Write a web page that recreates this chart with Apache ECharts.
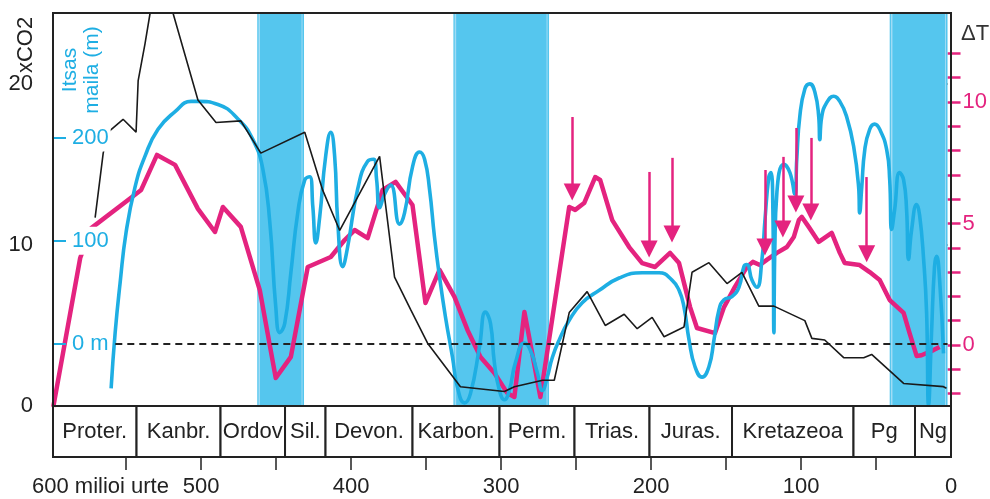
<!DOCTYPE html>
<html><head><meta charset="utf-8">
<script src="https://cdn.jsdelivr.net/npm/echarts@6/dist/echarts.min.js"></script>
<style>html,body{margin:0;padding:0;background:#fff}#c{width:990px;height:499px}</style>
</head><body><div id="c"></div>
<script>
// ---- data ----
const periodNames = ['Proter.','Kanbr.','Ordov','Sil.','Devon.','Karbon.','Perm.','Trias.','Juras.','Kretazeoa','Pg','Ng'];
const periodBounds = [598.7, 543, 487, 444, 417, 359, 301, 251, 201, 146, 65, 24, 0];
const glacialBands = [[462, 430.7], [330.7, 266.7], [38.7, 0]];
const xLabelValues = [500, 400, 300, 200, 100, 0];
const xTickValues = [550, 500, 450, 400, 350, 300, 250, 200, 150, 100, 50];
const co2TickValues = [0, 10, 20];
const seaTickValues = [0, 100, 200];
const dTTickValues = [-2,-1,0,1,2,3,4,5,6,7,8,9,10,11,12];
const dTLabelValues = [0, 5, 10];

// xCO2 (Ma, ratio)
const co2Data = [[570.5,11.7],[565.1,15.7],[561.8,17.0],[551.8,17.8],[543.1,17.0],[541.7,20.2],[537.1,22.5],[533.7,24.4],[527,27],[518.4,24.4],[501.7,19.0],[489.6,17.6],[473.0,17.7],[459.6,15.7],[430.2,17.0],[418.2,13.4],[406.8,10.9],[380.1,15.5],[376.8,13.0],[370.1,8.0],[359.4,6.0],[348.0,3.9],[326.0,1.2],[296.6,0.9],[289.9,1.2],[271,1.6],[263.2,1.6],[253.2,5.8],[241.2,7.1],[229.1,5.0],[216.4,5.7],[207.7,4.8],[197.7,5.5],[189.7,4.3],[176.4,4.9],[171.0,8.3],[159.7,8.9],[147.6,7.6],[137.6,8.3],[126.3,6.2],[116.2,6.2],[95.5,5.3],[90.8,4.2],[82.2,4.1],[69.5,3.0],[56.1,3.0],[50.8,3.2],[29.4,1.4],[2.7,1.2],[0.7,1.1]];

// Delta T (Ma, degrees)
const dTData = [[598.5,-2.55],[580.5,3.58],[573.1,4.81],[539.7,6.38],[529.1,7.82],[517.0,7.41],[501.7,5.6],[490.3,4.65],[485.0,5.68],[473.0,4.86],[460.3,2.26],[449.6,-1.36],[439.5,-0.49],[428.2,3.21],[412.8,3.62],[403.5,4.32],[396.8,4.73],[388.1,4.40],[378.1,6.38],[369.4,6.71],[358.1,5.76],[349.4,1.73],[340.0,3.09],[330.0,1.98],[321.3,0.62],[312.6,-0.49],[303.3,-1.15],[294.6,-1.98],[289.9,-2.14],[283.2,1.36],[272.5,-2.14],[253.2,5.68],[249.2,5.56],[243.2,5.84],[235.8,6.91],[232.5,6.79],[224.4,5.14],[213.1,4.03],[204.4,3.37],[195.7,3.21],[185.7,3.79],[179.7,3.37],[172.3,1.56],[167.7,0.70],[155.6,0.49],[149.6,1.56],[142.3,2.39],[134.3,3.21],[130.3,3.42],[125.6,3.29],[121,3.5],[114.2,3.79],[107.5,4.03],[102.9,4.44],[99.5,5.14],[97.5,5.27],[92.9,4.86],[86.2,4.24],[77.5,4.61],[72.1,3.79],[68.8,3.37],[58.8,3.29],[52.1,3.00],[45.4,2.67],[38.7,1.85],[29.4,1.32],[25.4,0.49],[20.7,-0.45],[17.4,-0.42],[9.4,-0.21],[5.3,-0.08]];

// Sea level (Ma, m)
const seaData = [[559.8,-43],[557.1,11],[553.8,59],[549.8,108],[543.8,152],[537.1,182],[528.4,208],[517,225],[506.3,235],[501.7,235],[488.3,232],[474.9,218],[464.9,198],[458.2,169],[453.6,118],[449.6,36],[446.9,11],[443.6,20],[439.5,69],[434.9,127],[430.2,159],[426.9,162],[424.8,133],[422.8,98],[420.2,123],[416.2,182],[412.8,205],[410.2,182],[408.1,118],[404.8,75],[401.5,94],[394.8,150],[388.1,177],[384.1,179],[382.1,159],[380.1,132],[376.8,145],[372.7,154],[366.7,116],[363.4,127],[358.0,172],[353.4,186],[350.0,179],[346.7,150],[343.4,104],[340.0,65],[336.0,26],[331.3,-13],[328.0,-42],[323.3,-57],[319.3,-48],[313.3,-3],[309.3,31],[305.9,20],[303.3,-18],[299.9,-45],[296.6,-54],[293.3,-45],[289.2,-18],[283.2,1],[279.2,-6],[274.5,-28],[271.2,-45],[267.9,-32],[264.5,-13],[259.9,4],[253.2,23],[244.5,40],[233.1,52],[219.8,64],[204.4,69],[193.1,69],[184.4,62],[179.7,52],[176.4,36],[173.0,4],[169.0,-22],[164.3,-32],[159.7,-22],[156.3,4],[153.0,33],[149.6,43],[144.3,46],[139.6,55],[136.3,75],[134.3,77],[130.9,62],[127.6,55],[124.2,82],[122.2,120],[119.6,162],[118.2,166],[116.9,130],[116.2,11],[115.6,91],[114.2,147],[109.6,174],[105.5,166],[102.2,145],[100.9,179],[98.9,220],[95.5,247],[92.2,252],[88.8,244],[86.2,220],[85.5,198],[84.2,220],[80.8,234],[76.2,240],[72.1,235],[67.5,220],[62.8,191],[59.5,152],[58.8,127],[57.4,152],[55.4,188],[52.1,208],[48.8,213],[45.4,208],[40.7,188],[38.7,159],[37.4,111],[35.4,130],[32.1,166],[29.4,159],[27.4,130],[26.1,82],[24.0,111],[20.7,135],[18.7,125],[16.0,82],[14.0,30],[12.7,-59],[10.7,11],[8.7,75],[7.3,85],[5.3,62],[2.7,-9]];

// Event arrows (Ma, top dT, tip dT)
const arrowData = [[251.2,9.38,5.97],[199.7,7.12,3.62],[184.4,7.70,4.24],[122.2,7.20,3.70],[110.2,7.74,4.44],[101.5,8.93,5.47],[91.5,8.52,5.14],[54.1,6.91,3.42]];
const zeroLineStart = 557;

// ---- styling ----
const FONT = "'Liberation Sans', Arial, Helvetica, sans-serif";
const FS = 22;
const MAG = '#e4237f', CYAN = '#1eaee3', BAND = '#55c6ee', BAND_EDGE = '#9fdcf5', INK = '#222';
const X_MAX = 598.7;
const HEAD_OFFSET = 0.33;

const chart = echarts.init(document.getElementById('c'));
const option = {
  animation: false,
  grid: [
    {left: 53, right: 39, top: 13, height: 393},
    {left: 53, right: 39, top: 406, height: 51}
  ],
  xAxis: [
    {gridIndex: 0, type: 'value', min: 0, max: X_MAX, inverse: true, show: false},
    {gridIndex: 1, type: 'value', min: 0, max: X_MAX, inverse: true, interval: 50,
     axisLine: {show: false},
     axisTick: {show: true, customValues: xTickValues, length: 13, lineStyle: {color: INK, width: 1.5}},
     axisLabel: {customValues: xLabelValues, margin: 19, fontSize: FS, fontFamily: FONT, color: INK},
     splitLine: {show: false}}
  ],
  yAxis: [
    {gridIndex: 0, type: 'value', min: 0, max: 24.4, position: 'left',
     axisLine: {show: false},
     axisTick: {show: true, customValues: co2TickValues, length: 13, lineStyle: {color: INK, width: 1.5}},
     axisLabel: {customValues: co2TickValues, margin: 20, fontSize: FS, fontFamily: FONT, color: INK},
     splitLine: {show: false}},
    {gridIndex: 0, type: 'value', min: -60, max: 320.6, position: 'left', z: 10,
     axisLine: {show: false},
     axisTick: {show: true, inside: true, customValues: seaTickValues, length: 13, lineStyle: {color: CYAN, width: 2}},
     axisLabel: {customValues: seaTickValues, inside: true, margin: 17, fontSize: FS, fontFamily: FONT, color: CYAN,
       backgroundColor: '#fff', padding: [3, 2],
       formatter: v => (v === 0 ? '0 m' : String(v))},
     splitLine: {show: false}},
    {gridIndex: 0, type: 'value', min: -2.51, max: 13.66, position: 'right',
     axisLine: {show: false},
     axisTick: {show: true, customValues: dTTickValues, length: 13, lineStyle: {color: MAG, width: 2.5}},
     axisLabel: {customValues: dTLabelValues, margin: 15, fontSize: FS, fontFamily: FONT, color: MAG},
     splitLine: {show: false}},
    {gridIndex: 1, type: 'value', min: 0, max: 1, show: false}
  ],
  series: [
    {type: 'custom', xAxisIndex: 0, yAxisIndex: 0, z: 1, silent: true,
     data: glacialBands.map(b => [b[0], b[1], 1]),
     encode: {x: [0, 1], y: 2},
     renderItem: (params, api) => {
       const a = api.coord([api.value(0), 0]);
       const b = api.coord([api.value(1), 0]);
       const cs = params.coordSys;
       const x0 = Math.min(a[0], b[0]), w = Math.abs(b[0] - a[0]);
       return {type: 'group', children: [
         {type: 'rect', shape: {x: x0, y: cs.y, width: w, height: cs.height}, style: {fill: BAND}},
         {type: 'line', shape: {x1: x0 + 2, y1: cs.y, x2: x0 + 2, y2: cs.y + cs.height}, style: {stroke: BAND_EDGE, lineWidth: 1.5}},
         {type: 'line', shape: {x1: x0 + w - 2, y1: cs.y, x2: x0 + w - 2, y2: cs.y + cs.height}, style: {stroke: BAND_EDGE, lineWidth: 1}}
       ]};
     }},
    {type: 'custom', xAxisIndex: 1, yAxisIndex: 3, z: 2, silent: true,
     data: periodNames.map((n, i) => [periodBounds[i], periodBounds[i + 1], 0.5]),
     encode: {x: [0, 1], y: 2},
     renderItem: (params, api) => {
       const a = api.coord([api.value(0), 0]);
       const b = api.coord([api.value(1), 1]);
       return {type: 'rect',
         shape: {x: Math.min(a[0], b[0]), y: Math.min(a[1], b[1]), width: Math.abs(b[0] - a[0]), height: Math.abs(b[1] - a[1])},
         style: {fill: '#fff', stroke: INK, lineWidth: 2},
         textContent: {style: {text: periodNames[params.dataIndex], font: FS + 'px ' + FONT, fill: INK}},
         textConfig: {position: 'inside'}};
     }},
    {name: 'dT', type: 'line', xAxisIndex: 0, yAxisIndex: 2, z: 3, data: dTData, symbol: 'none', silent: true,
     lineStyle: {color: MAG, width: 4.5, join: 'round'},
     markLine: {silent: true, symbol: ['none', 'triangle'], symbolSize: 17, label: {show: false},
       lineStyle: {color: MAG, width: 2.5, type: 'solid'},
       emphasis: {disabled: true},
       data: arrowData.map(a => [{coord: [a[0], a[1]]}, {coord: [a[0], a[2] + HEAD_OFFSET]}])}},
    {name: 'sea', type: 'line', xAxisIndex: 0, yAxisIndex: 1, z: 4, data: seaData, symbol: 'none', silent: true,
     smooth: 0.5,
     lineStyle: {color: CYAN, width: 3.6},
     markLine: {silent: true, symbol: ['none', 'none'], label: {show: false},
       lineStyle: {color: INK, width: 2, type: [7, 5]},
       emphasis: {disabled: true},
       data: [[{coord: [zeroLineStart, 0]}, {coord: [0, 0]}]]}},
    {name: 'co2', type: 'line', xAxisIndex: 0, yAxisIndex: 0, z: 6, data: co2Data, symbol: 'none', silent: true,
     lineStyle: {color: '#1a1a1a', width: 1.6}}
  ],
  graphic: [
    {type: 'rect', z: 100, silent: true, shape: {x: 53, y: 13, width: 898, height: 393},
     style: {fill: null, stroke: INK, lineWidth: 2}},
    {type: 'text', z: 100, x: 26, y: 45, rotation: Math.PI / 2,
     style: {text: 'xCO2', font: FS + 'px ' + FONT, fill: INK, align: 'center', verticalAlign: 'middle'}},
    {type: 'text', z: 100, x: 81, y: 70, rotation: Math.PI / 2,
     style: {text: 'Itsas\nmaila (m)', font: '21px ' + FONT, fill: CYAN, align: 'center', verticalAlign: 'middle', lineHeight: 22}},
    {type: 'text', z: 100, x: 961, y: 23,
     style: {text: 'ΔT', font: FS + 'px ' + FONT, fill: '#333', verticalAlign: 'top'}},
    {type: 'text', z: 100, x: 32, y: 476,
     style: {text: '600 milioi urte', font: FS + 'px ' + FONT, fill: INK, verticalAlign: 'top'}}
  ]
};
chart.setOption(option);
</script>
</body></html>
